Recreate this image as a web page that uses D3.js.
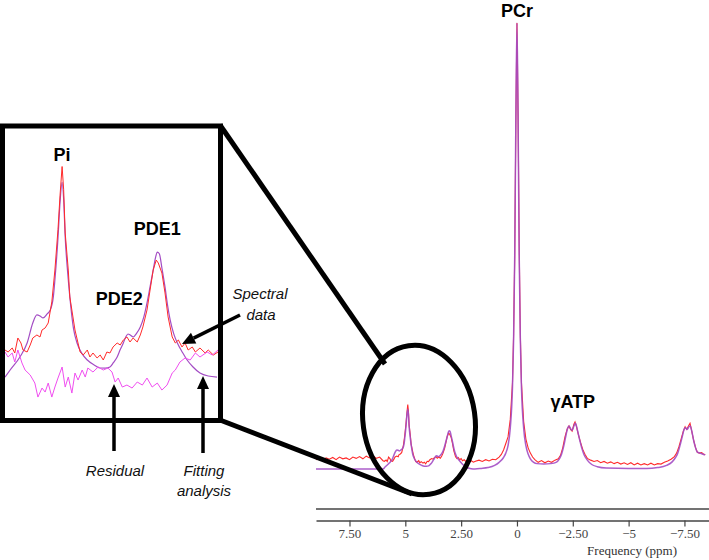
<!DOCTYPE html>
<html>
<head>
<meta charset="utf-8">
<script src="https://cdn.jsdelivr.net/npm/d3@7"></script>
<style>
  body { margin: 0; background: #fff; }
  svg { display: block; }
</style>
</head>
<body>
<svg id="chart" width="709" height="560"></svg>
<script>
// fitted spectrum [ppm, intensity] (PCr = 100)
const fitted = [
  [9.0,-1.8],[8.0,-1.8],[7.0,-1.8],[6.5,-1.8],[6.2,-1.82],
  [6.00,-1.82],[5.90,-1.33],[5.71,-0.42],[5.57,0.56],[5.46,1.96],[5.38,2.52],[5.32,2.45],[5.26,2.31],
  [5.18,2.6],[5.12,2.87],[5.06,3.8],[5.03,4.97],[4.97,7.9],[4.93,10.4],[4.89,11.8],[4.86,10.6],
  [4.83,7.97],[4.78,5.4],[4.74,3.78],[4.67,1.6],[4.60,0.56],[4.50,-0.2],[4.40,-0.63],[4.28,-0.95],
  [4.15,-1.19],[4.05,-1.2],[3.96,-1.12],[3.89,-0.8],[3.82,-0.42],[3.76,0.1],[3.70,0.56],[3.65,1.0],
  [3.61,1.19],[3.56,1.1],[3.51,0.98],[3.44,1.25],[3.37,1.68],[3.30,2.4],[3.24,3.36],[3.18,4.5],
  [3.12,5.66],[3.07,6.6],[3.04,6.92],[3.00,6.8],[2.95,5.8],[2.89,4.48],[2.84,3.2],[2.79,2.17],
  [2.72,1.2],[2.65,0.56],[2.55,-0.1],[2.46,-0.63],[2.35,-1.1],[2.21,-1.54],[2.05,-1.75],[1.88,-1.82],
  [1.6,-1.7],[1.3,-1.5],[1.0,-1.0],[0.8,-0.3],[0.6,0.8],[0.5,1.8],[0.4,3.5],[0.3,7.5],[0.2,17],
  [0.15,28],[0.1,47],[0.05,78],[0.0,100],[-0.05,78],[-0.1,47],[-0.15,28],[-0.2,17],[-0.3,7.5],
  [-0.4,3.5],[-0.5,1.6],[-0.6,0.5],[-0.75,-0.3],[-0.9,-0.6],[-1.2,-0.7],[-1.5,-0.6],[-1.75,-0.3],
  [-1.9,0.5],[-2.0,1.6],[-2.1,3.5],[-2.2,6.0],[-2.27,7.5],[-2.33,8.0],[-2.4,7.4],[-2.47,7.0],
  [-2.55,8.0],[-2.62,8.6],[-2.7,7.2],[-2.8,5.0],[-2.9,3.0],[-3.0,1.5],[-3.15,0.2],[-3.35,-0.8],
  [-3.6,-1.3],[-4.0,-1.6],[-5.0,-1.7],[-5.8,-1.7],[-6.3,-1.5],[-6.7,-1.0],[-6.95,-0.2],[-7.1,0.8],
  [-7.2,1.8],[-7.3,3.5],[-7.4,5.5],[-7.5,7.4],[-7.55,7.6],[-7.62,7.2],[-7.7,7.8],[-7.76,8.0],
  [-7.83,6.8],[-7.92,4.5],[-8.0,3.0],[-8.08,2.0],[-8.2,1.8],[-8.3,1.6],[-8.43,1.4]
];

// measured spectral data [ppm, intensity]
const spectral = [
  [9.0,0.3],[8.85,0.6],[8.7,0.2],[8.55,0.7],[8.4,0.4],[8.25,0.8],[8.1,0.3],[7.95,0.9],[7.8,0.5],
  [7.65,0.7],[7.5,0.3],[7.35,0.9],[7.2,0.6],[7.05,1.0],[6.9,0.5],[6.75,1.1],[6.6,0.7],[6.45,1.2],
  [6.3,0.6],[6.15,0.9],
  [6.00,0.07],[5.94,-0.07],[5.86,0.21],[5.81,-0.14],[5.75,0.91],[5.69,0.56],[5.65,0.07],[5.57,-0.07],
  [5.51,0.42],[5.46,0.91],[5.38,1.12],[5.32,0.98],[5.28,1.47],[5.22,1.61],[5.16,1.96],[5.09,3.43],
  [5.03,5.66],[4.97,8.5],[4.93,10.9],[4.89,12.9],[4.86,11.3],[4.83,8.25],[4.77,5.66],[4.74,3.78],
  [4.64,1.47],[4.54,-0.07],[4.48,-0.28],[4.40,0.07],[4.35,-0.42],[4.29,-0.14],[4.21,-0.49],
  [4.15,-0.28],[4.09,-0.63],[4.02,-0.07],[3.96,-0.14],[3.90,0.28],[3.82,0.56],[3.76,0.42],
  [3.70,0.77],[3.63,0.98],[3.57,0.63],[3.51,0.91],[3.43,0.63],[3.37,1.12],[3.32,1.68],[3.24,2.87],
  [3.18,4.27],[3.12,5.66],[3.06,6.36],[3.02,6.15],[2.95,5.45],[2.89,4.06],[2.83,2.38],[2.75,0.98],
  [2.69,0.56],[2.63,0.77],[2.56,0.28],[2.50,0.56],[2.44,0.07],[2.36,0.28],[2.30,-0.07],[2.21,0.21],
  [2.11,-0.14],[2.05,0.07],[1.95,-0.28],[1.86,-0.07],
  [1.7,0.2],[1.55,-0.1],[1.4,0.3],[1.25,0.0],[1.1,0.4],[0.95,0.3],[0.8,0.9],[0.7,1.5],[0.6,2.5],
  [0.5,4.0],[0.4,5.5],[0.3,9.5],[0.2,18],[0.15,29],[0.1,47],[0.05,77],[0.0,100],[-0.05,79],
  [-0.1,49],[-0.15,29],[-0.2,18],[-0.3,9],[-0.4,5],[-0.5,3.0],[-0.6,1.8],[-0.7,0.9],[-0.8,0.3],
  [-0.95,-0.3],[-1.1,0.1],[-1.25,-0.4],[-1.4,0.0],[-1.55,-0.3],[-1.7,0.2],[-1.85,0.5],[-1.95,1.3],
  [-2.05,3.0],[-2.15,5.5],[-2.25,7.3],[-2.33,8.0],[-2.4,7.2],[-2.47,6.8],[-2.55,8.4],[-2.6,8.9],
  [-2.67,7.8],[-2.75,6.0],[-2.85,4.2],[-2.95,2.6],[-3.05,1.5],[-3.15,0.6],[-3.3,0.2],[-3.45,-0.1],
  [-3.6,0.1],[-3.75,-0.4],[-3.9,-0.1],[-4.05,-0.5],[-4.2,-0.2],[-4.35,-0.6],[-4.5,-0.3],[-4.65,-0.7],
  [-4.8,-0.4],[-4.95,-0.8],[-5.1,-0.4],[-5.25,-0.9],[-5.4,-0.5],[-5.55,-0.9],[-5.7,-0.6],[-5.85,-0.9],
  [-6.0,-0.5],[-6.15,-0.9],[-6.3,-0.6],[-6.45,-0.7],[-6.6,-0.3],[-6.75,0.0],[-6.9,0.4],[-7.05,1.0],
  [-7.15,1.8],[-7.25,3.2],[-7.35,5.0],[-7.45,6.8],[-7.53,7.8],[-7.6,7.2],[-7.68,8.0],[-7.75,8.6],
  [-7.82,7.0],[-7.9,5.0],[-8.0,3.0],[-8.08,2.0],[-8.17,1.8],[-8.27,1.9],[-8.35,1.6],[-8.43,1.4]
];

// residual (inset only)
const residual = [
  [6.00,-0.07],[5.94,-0.42],[5.86,-0.14],[5.81,-0.77],[5.75,0.07],[5.67,-0.84],[5.61,-1.33],
  [5.51,-1.68],[5.42,-2.24],[5.36,-3.22],[5.28,-2.59],[5.22,-2.87],[5.16,-2.24],[5.09,-3.22],
  [5.03,-2.52],[4.97,-1.89],[4.89,-1.12],[4.83,-2.52],[4.77,-1.82],[4.70,-2.94],[4.64,-1.54],
  [4.58,-2.03],[4.50,-1.33],[4.44,-1.82],[4.39,-1.19],[4.29,-1.47],[4.19,-1.12],[4.09,-1.33],
  [4.00,-1.19],[3.92,-1.47],[3.86,-2.17],[3.80,-1.89],[3.72,-2.52],[3.63,-2.38],[3.53,-2.59],
  [3.43,-2.17],[3.33,-2.38],[3.24,-1.89],[3.14,-2.52],[3.04,-2.24],[2.95,-2.73],[2.85,-2.38],
  [2.75,-1.54],[2.69,-1.33],[2.60,-0.77],[2.50,-0.49],[2.40,-0.63],[2.30,-0.14],[2.21,-0.42],
  [2.07,-0.07],[1.97,-0.28],[1.86,0.07]
];

const tickValues = [7.5, 5, 2.5, 0, -2.5, -5, -7.5];
const tickLabels = ["7.50", "5", "2.50", "0", "\u22122.50", "\u22125", "\u22127.50"];
const mainPeaks = [{name: "PCr", ppm: 0}, {name: "\u03b3ATP", ppm: -2.5}];
const insetPeaks = [{name: "Pi", ppm: 4.89}, {name: "PDE1", ppm: 3.04}, {name: "PDE2", ppm: 3.78}];

const svg = d3.select("#chart");
svg.append("rect").attr("width", 709).attr("height", 560).attr("fill", "#fff");

const RED = "#ff2a2a", PURPLE = "#a34cc4", MAGENTA = "#f04ef0";

// main spectrum scales
const x = d3.scaleLinear().domain([9, -8.6]).range([316, 709]);
const y = d3.scaleLinear().domain([0, 100]).range([461, 23]);

const mainFit = d3.line().x(d => x(d[0])).y(d => y(d[1])).curve(d3.curveMonotoneX);
const mainData = d3.line().x(d => x(d[0])).y(d => y(d[1]));

svg.append("path").datum(spectral).attr("d", mainData)
  .attr("fill", "none").attr("stroke", RED).attr("stroke-width", 1.1);
svg.append("path").datum(fitted).attr("d", mainFit)
  .attr("fill", "none").attr("stroke", PURPLE).attr("stroke-width", 1.5).attr("stroke-opacity", 0.9);

// axis
svg.append("line").attr("x1", 316).attr("x2", 709).attr("y1", 509).attr("y2", 509)
  .attr("stroke", "#444").attr("stroke-width", 1.4);
const axis = d3.axisBottom(x).tickValues(tickValues).tickSize(6).tickSizeOuter(0)
  .tickFormat((d, i) => tickLabels[i]);
const ax = svg.append("g").attr("transform", "translate(0,520.5)").call(axis);
ax.select(".domain").attr("stroke", "#444").attr("stroke-width", 1.4);
ax.selectAll(".tick line").attr("stroke", "#444").attr("stroke-width", 1.2);
ax.selectAll(".tick text").attr("fill", "#444")
  .style("font-family", "'Liberation Serif', 'DejaVu Serif', serif").style("font-size", "13px")
  .attr("dy", "0.68em");
svg.append("text").attr("x", 677).attr("y", 555).attr("text-anchor", "end")
  .style("font-family", "'Liberation Serif', serif").style("font-size", "13px")
  .attr("fill", "#333").text("Frequency (ppm)");

const boldFont = "'Liberation Sans', Arial, sans-serif";
svg.selectAll(".mainpeak").data(mainPeaks).enter().append("text")
  .attr("x", d => x(d.ppm)).attr("y", (d, i) => i === 0 ? 17 : 408)
  .attr("text-anchor", "middle")
  .style("font-family", boldFont).style("font-weight", "bold").style("font-size", "18px")
  .text(d => d.name);

// inset
const ix = d3.scaleLinear().domain([6.0, 1.86]).range([5, 218]);
const iy = d3.scaleLinear().domain([0, 12]).range([351, 179.4]);

svg.append("clipPath").attr("id", "insetClip")
  .append("rect").attr("x", 4).attr("y", 128).attr("width", 215).attr("height", 290);
const ig = svg.append("g").attr("clip-path", "url(#insetClip)");

ig.append("path").datum(fitted.filter(d => d[0] <= 6.05 && d[0] >= 1.8))
  .attr("d", d3.line().x(d => ix(d[0])).y(d => iy(d[1])).curve(d3.curveMonotoneX))
  .attr("fill", "none").attr("stroke", PURPLE).attr("stroke-width", 1.2);
ig.append("path").datum(spectral.filter(d => d[0] <= 6.05 && d[0] >= 1.8))
  .attr("d", d3.line().x(d => ix(d[0])).y(d => iy(d[1])))
  .attr("fill", "none").attr("stroke", RED).attr("stroke-width", 1);
ig.append("path").datum(residual)
  .attr("d", d3.line().x(d => ix(d[0])).y(d => iy(d[1])))
  .attr("fill", "none").attr("stroke", MAGENTA).attr("stroke-width", 1);

// inset frame and zoom lines
svg.append("rect").attr("x", 2.5).attr("y", 126).attr("width", 218).attr("height", 294.5)
  .attr("fill", "none").attr("stroke", "#000").attr("stroke-width", 5);
svg.append("ellipse").attr("cx", 419).attr("cy", 420).attr("rx", 56).attr("ry", 75)
  .attr("transform", "rotate(-8,419,420)")
  .attr("fill", "none").attr("stroke", "#000").attr("stroke-width", 5);
svg.append("line").attr("x1", 220).attr("y1", 125).attr("x2", 385).attr("y2", 364)
  .attr("stroke", "#000").attr("stroke-width", 5);
svg.append("line").attr("x1", 220).attr("y1", 420).attr("x2", 412).attr("y2", 494)
  .attr("stroke", "#000").attr("stroke-width", 5);

svg.selectAll(".insetpeak").data(insetPeaks).enter().append("text")
  .attr("x", d => ix(d.ppm)).attr("y", d => d.name === "Pi" ? 161 : d.name === "PDE1" ? 235 : 305)
  .attr("text-anchor", "middle")
  .style("font-family", boldFont).style("font-weight", "bold").style("font-size", "18px")
  .text(d => d.name);

// annotation arrows
function arrow(x1, y1, x2, y2) {
  const a = Math.atan2(y2 - y1, x2 - x1), L = 13, W = 6;
  const bx = x2 - L * Math.cos(a), by = y2 - L * Math.sin(a);
  svg.append("line").attr("x1", x1).attr("y1", y1).attr("x2", bx).attr("y2", by)
    .attr("stroke", "#000").attr("stroke-width", 3.5);
  svg.append("path")
    .attr("d", `M${x2},${y2}L${bx + W * Math.sin(a)},${by - W * Math.cos(a)}L${bx - W * Math.sin(a)},${by + W * Math.cos(a)}Z`)
    .attr("fill", "#000");
}
arrow(240, 315, 182, 344);
arrow(114, 451, 114, 384);
arrow(203, 453, 203, 376);

const italic = sel => sel.style("font-family", boldFont).style("font-style", "italic")
  .style("font-size", "15px").attr("text-anchor", "middle").attr("fill", "#111");
svg.append("text").attr("x", 260).attr("y", 299).text("Spectral").call(italic);
svg.append("text").attr("x", 261).attr("y", 320).text("data").call(italic);
svg.append("text").attr("x", 115).attr("y", 476).text("Residual").call(italic);
svg.append("text").attr("x", 204).attr("y", 476).text("Fitting").call(italic);
svg.append("text").attr("x", 204).attr("y", 496).text("analysis").call(italic);
</script>
</body>
</html>
